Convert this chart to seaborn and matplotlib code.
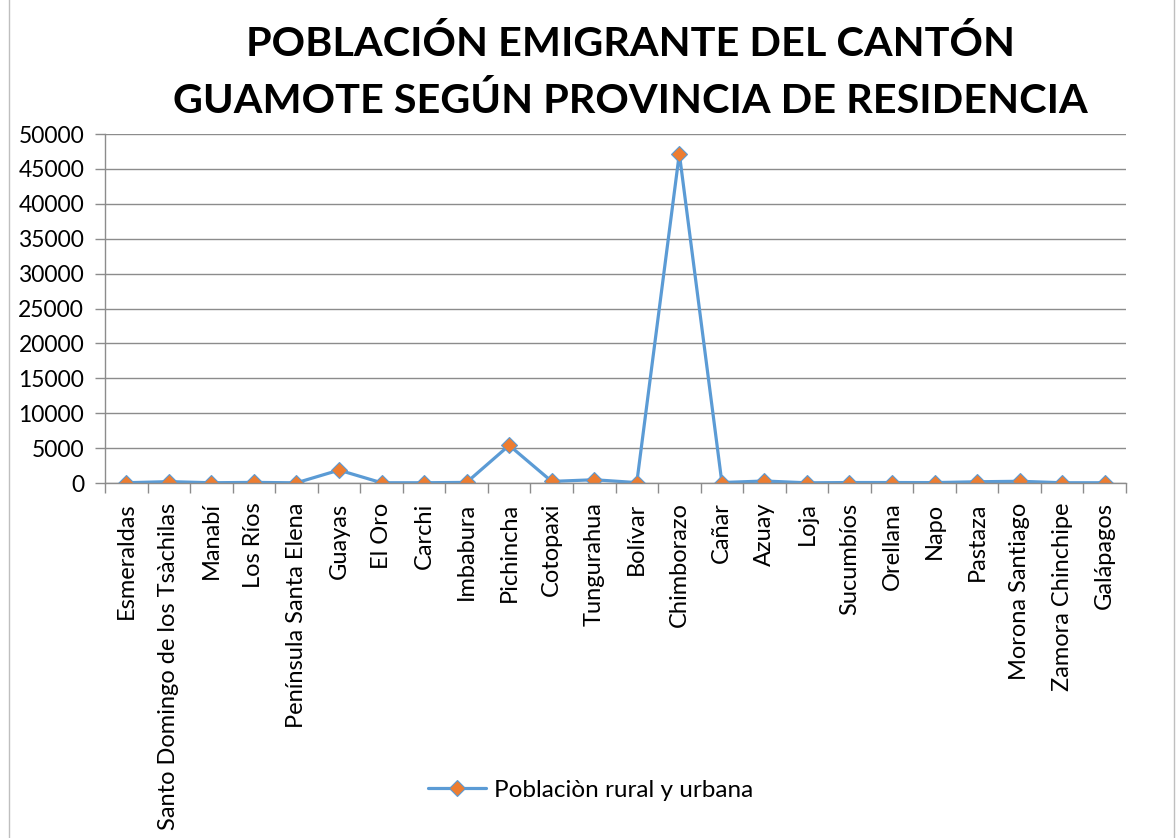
import matplotlib
matplotlib.use('Agg')
import matplotlib.pyplot as plt
import numpy as np
import pandas as pd
import seaborn as sns
from matplotlib.patches import Rectangle
from matplotlib.ticker import MultipleLocator, FixedLocator

provincias = ['Esmeraldas', 'Santo Domingo de los Tsàchilas', 'Manabí', 'Los Ríos',
              'Península Santa Elena', 'Guayas', 'El Oro', 'Carchi', 'Imbabura',
              'Pichincha', 'Cotopaxi', 'Tungurahua', 'Bolívar', 'Chimborazo', 'Cañar',
              'Azuay', 'Loja', 'Sucumbíos', 'Orellana', 'Napo', 'Pastaza',
              'Morona Santiago', 'Zamora Chinchipe', 'Galápagos']
poblacion = [40, 200, 40, 90, 30, 1850, 40, 40, 90, 5400, 230, 470, 60, 47200, 70,
             290, 30, 70, 70, 60, 180, 250, 40, 40]
serie = 'Poblaciòn rural y urbana'

df = pd.DataFrame({'Provincia': provincias, 'Poblacion': poblacion})

sns.set_theme(style='white')
plt.rcParams['font.family'] = ['Lato', 'DejaVu Sans']
plt.rcParams['text.color'] = 'black'
plt.rcParams['xtick.color'] = 'black'
plt.rcParams['ytick.color'] = 'black'

fig = plt.figure(figsize=(11.76, 8.38), dpi=100)
ax = fig.add_axes([0.0893, 0.4236, 0.8682, 0.4164])

sns.lineplot(data=df, x='Provincia', y='Poblacion', ax=ax, color='#5B9BD5',
             linewidth=2.3, marker='D', markersize=8, markerfacecolor='#ED7D31',
             markeredgecolor='#5B9BD5', markeredgewidth=0.8, label=serie)

n = len(provincias)
ax.set_xlim(-0.5, n - 0.5)
ax.set_ylim(0, 50000)
ax.yaxis.set_major_locator(MultipleLocator(5000))
ax.grid(True, axis='y', color='#8C8C8C', linewidth=1)
ax.set_axisbelow(True)
ax.set_xlabel('')
ax.set_ylabel('')

for s in ['top', 'right']:
    ax.spines[s].set_visible(False)
for s in ['left', 'bottom']:
    ax.spines[s].set_color('#8C8C8C')
    ax.spines[s].set_linewidth(1)

ax.set_xticks(range(n))
ax.set_xticklabels(provincias, rotation=90, fontsize=17)
ax.xaxis.set_minor_locator(FixedLocator(np.arange(-0.5, n, 1)))
ax.tick_params(axis='x', which='major', length=0, pad=14, labelcolor='black')
ax.tick_params(axis='x', which='minor', length=7, color='#8C8C8C', width=1, bottom=True)
ax.tick_params(axis='y', which='major', length=7, color='#8C8C8C', width=1, left=True,
               labelsize=16.5, pad=8, labelcolor='black')

fig.text(0.536, 0.947, 'POBLACIÓN EMIGRANTE DEL CANTÓN', ha='center', va='center',
         fontsize=29.8, fontweight='bold', color='black')
fig.text(0.536, 0.88, 'GUAMOTE SEGÚN PROVINCIA DE RESIDENCIA', ha='center', va='center',
         fontsize=29.8, fontweight='bold', color='black')

ax.legend(loc='center', frameon=False, fontsize=17.5, handlelength=2.4,
          handletextpad=0.3)
leg = ax.get_legend()
leg.set_bbox_to_anchor((0.502, 0.057), transform=fig.transFigure)
for t in leg.get_texts():
    t.set_color('black')

fig.patches.append(Rectangle((0.008, -0.01), 0.99, 1.02, transform=fig.transFigure,
                             fill=False, edgecolor='#BFBFBF', linewidth=1))

plt.savefig('out.png', dpi=100)
